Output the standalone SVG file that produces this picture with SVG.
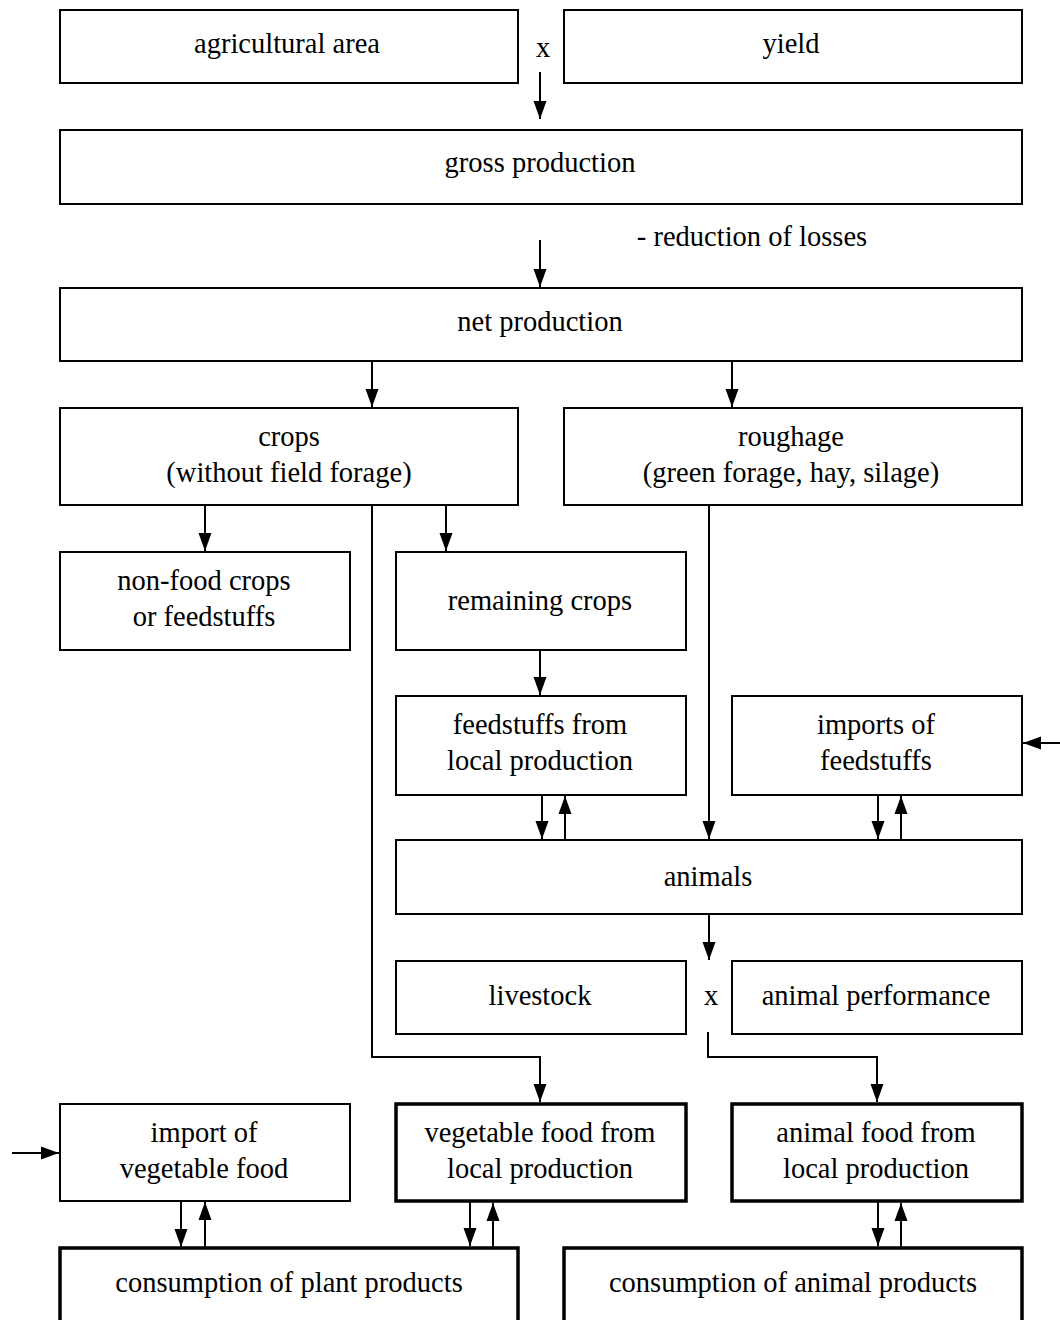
<svg xmlns="http://www.w3.org/2000/svg" width="1060" height="1320" viewBox="0 0 1060 1320">
<style>
.b{fill:#fff;stroke:#000;stroke-width:2}
.bb{fill:#fff;stroke:#000;stroke-width:3.5}
text{font-family:"Liberation Serif","Times New Roman",serif;font-size:28.5px;fill:#000;text-anchor:middle}
.c{fill:none;stroke:#000;stroke-width:2}
</style>
<defs>
<marker id="ah" markerUnits="userSpaceOnUse" markerWidth="18" markerHeight="14" viewBox="0 0 18 14" refX="18" refY="7" orient="auto">
<path d="M0,0.5 L18,7 L0,13.5 Z" fill="#000"/>
</marker>
</defs>
<rect width="1060" height="1320" fill="#fff"/>
<g id="agricultural-area"><rect class="b" x="60" y="10" width="458" height="73"/><text x="287" y="53">agricultural area</text></g>
<g id="yield"><rect class="b" x="564" y="10" width="458" height="73"/><text x="791" y="53">yield</text></g>
<text x="543" y="57">x</text>
<g id="gross-production"><rect class="b" x="60" y="130" width="962" height="74"/><text x="540" y="172">gross production</text></g>
<text x="752" y="246">- reduction of losses</text>
<g id="net-production"><rect class="b" x="60" y="288" width="962" height="73"/><text x="540" y="331">net production</text></g>
<g id="crops"><rect class="b" x="60" y="408" width="458" height="97"/><text x="289" y="446">crops</text><text x="289" y="482">(without field forage)</text></g>
<g id="roughage"><rect class="b" x="564" y="408" width="458" height="97"/><text x="791" y="446">roughage</text><text x="791" y="482">(green forage, hay, silage)</text></g>
<g id="non-food-crops"><rect class="b" x="60" y="552" width="290" height="98"/><text x="204" y="590">non-food crops</text><text x="204" y="626">or feedstuffs</text></g>
<g id="remaining-crops"><rect class="b" x="396" y="552" width="290" height="98"/><text x="540" y="610">remaining crops</text></g>
<g id="feedstuffs-local"><rect class="b" x="396" y="696" width="290" height="99"/><text x="540" y="734">feedstuffs from</text><text x="540" y="770">local production</text></g>
<g id="imports-feedstuffs"><rect class="b" x="732" y="696" width="290" height="99"/><text x="876" y="734">imports of</text><text x="876" y="770">feedstuffs</text></g>
<g id="animals"><rect class="b" x="396" y="840" width="626" height="74"/><text x="708" y="886">animals</text></g>
<g id="livestock"><rect class="b" x="396" y="961" width="290" height="73"/><text x="540" y="1005">livestock</text></g>
<g id="animal-performance"><rect class="b" x="732" y="961" width="290" height="73"/><text x="876" y="1005">animal performance</text></g>
<text x="711" y="1005">x</text>
<g id="import-vegetable"><rect class="b" x="60" y="1104" width="290" height="97"/><text x="204" y="1142">import of</text><text x="204" y="1178">vegetable food</text></g>
<g id="vegetable-food-local"><rect class="bb" x="396" y="1104" width="290" height="97"/><text x="540" y="1142">vegetable food from</text><text x="540" y="1178">local production</text></g>
<g id="animal-food-local"><rect class="bb" x="732" y="1104" width="290" height="97"/><text x="876" y="1142">animal food from</text><text x="876" y="1178">local production</text></g>
<g id="consumption-plant"><rect class="bb" x="60" y="1248" width="458" height="100"/><text x="289" y="1292">consumption of plant products</text></g>
<g id="consumption-animal"><rect class="bb" x="564" y="1248" width="458" height="100"/><text x="793" y="1292">consumption of animal products</text></g>
<g id="connectors">
<path class="c" d="M540,72 V119" marker-end="url(#ah)"/>
<path class="c" d="M540,240 V287" marker-end="url(#ah)"/>
<path class="c" d="M372,361 V407" marker-end="url(#ah)"/>
<path class="c" d="M732,361 V407" marker-end="url(#ah)"/>
<path class="c" d="M205,505 V551" marker-end="url(#ah)"/>
<path class="c" d="M446,505 V551" marker-end="url(#ah)"/>
<path class="c" d="M540,650 V695" marker-end="url(#ah)"/>
<path class="c" d="M1060,743 H1023" marker-end="url(#ah)"/>
<path class="c" d="M542,795 V839" marker-end="url(#ah)"/>
<path class="c" d="M565,840 V796" marker-end="url(#ah)"/>
<path class="c" d="M878,795 V839" marker-end="url(#ah)"/>
<path class="c" d="M901,840 V796" marker-end="url(#ah)"/>
<path class="c" d="M709,505 V839" marker-end="url(#ah)"/>
<path class="c" d="M709,914 V960" marker-end="url(#ah)"/>
<path class="c" d="M372,505 V1057 H540 V1102" marker-end="url(#ah)"/>
<path class="c" d="M708,1032 V1057 H877 V1102" marker-end="url(#ah)"/>
<path class="c" d="M12,1153 H59" marker-end="url(#ah)"/>
<path class="c" d="M181,1201 V1247" marker-end="url(#ah)"/>
<path class="c" d="M205,1248 V1202" marker-end="url(#ah)"/>
<path class="c" d="M470,1201 V1246" marker-end="url(#ah)"/>
<path class="c" d="M493,1248 V1203" marker-end="url(#ah)"/>
<path class="c" d="M878,1201 V1246" marker-end="url(#ah)"/>
<path class="c" d="M901,1248 V1203" marker-end="url(#ah)"/>
</g>
</svg>
